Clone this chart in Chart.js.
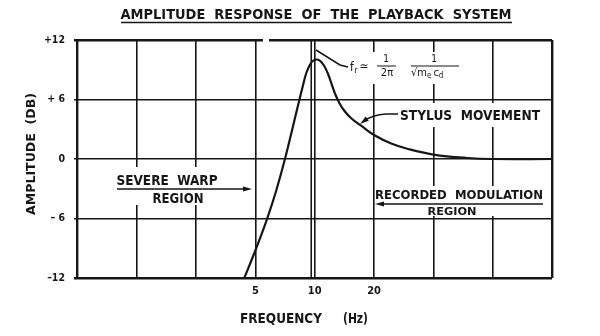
<!DOCTYPE html>
<html>
<head>
<meta charset="utf-8">
<script src="https://cdn.jsdelivr.net/npm/chart.js@4.4.1/dist/chart.umd.min.js"></script>
<style>
  html, body { margin: 0; padding: 0; background: #fff; }
  #wrap { width: 600px; height: 336px; }
</style>
</head>
<body>
<div id="wrap"><canvas id="chart" width="600" height="336"></canvas></div>
<script>
// stylus movement vs frequency, resonance just above 10 Hz
const freqHz = [4.39, 5.0, 5.73, 6.36, 7.06, 7.66, 8.33, 8.70, 9.06, 9.47, 9.77, 10.15, 10.60, 11.10, 11.63,
                12.18, 12.76, 13.37, 14.16, 15.36, 17.25, 20, 24.43, 29.76, 40, 59.7, 80, 160];
const ampDb  = [-12, -9.2, -6.03, -3.25, 0, 2.85, 5.85, 7.36, 8.67, 9.53, 9.88, 10.03, 9.93, 9.48, 8.67,
                7.56, 6.45, 5.60, 4.84, 4.08, 3.33, 2.42, 1.56, 1.01, 0.45, 0.1, 0, 0];

// octave grid, only three of them labelled
const gridFreqs = [0.625, 1.25, 2.5, 5, 10, 20, 40, 80, 160];
const labeledFreqs = [5, 10, 20];
const dbTicks = [-12, -6, 0, 6, 12];
const dbTickLabels = ['\u201312', '\u2013 6', '0', '+ 6', '+12'];

const FONT = '"DejaVu Sans Condensed", "Liberation Sans Narrow", "DejaVu Sans", sans-serif';
const INK = '#161616';

// squeeze or stretch a line of lettering to a given width
function fitText(ctx, text, x, y, width, size, align, weight) {
    ctx.save();
    ctx.font = `${weight || 'bold'} ${size}px ${FONT}`;
    const w = ctx.measureText(text).width;
    ctx.translate(x, y);
    ctx.scale(width / w, 1);
    ctx.textAlign = align || 'center';
    ctx.textBaseline = 'middle';
    ctx.fillText(text, 0, 0);
    ctx.restore();
}

function plainText(ctx, text, x, y, size, align) {
    ctx.font = `${size}px ${FONT}`;
    ctx.textAlign = align || 'left';
    ctx.textBaseline = 'middle';
    ctx.fillText(text, x, y);
    return x + ctx.measureText(text).width;
}

function arrowHead(ctx, x, y, angle) {
    const len = 9, half = 2.6;
    ctx.save();
    ctx.translate(x, y);
    ctx.rotate(angle);
    ctx.beginPath();
    ctx.moveTo(0, 0);
    ctx.lineTo(-len, -half);
    ctx.lineTo(-len, half);
    ctx.closePath();
    ctx.fill();
    ctx.restore();
}

const gridWidth = c => (c.index === 0 || c.index === c.scale.ticks.length - 1) ? 2.4 : 1.6;

const notes = {
    id: 'notes',
    beforeDatasetsDraw(chart) {
        // the 10 Hz rule is drawn double
        const { ctx, chartArea: a, scales: { x } } = chart;
        const px = x.getPixelForValue(10) - 3.5;
        ctx.save();
        ctx.strokeStyle = INK;
        ctx.lineWidth = 1.6;
        ctx.beginPath();
        ctx.moveTo(px, a.top);
        ctx.lineTo(px, a.bottom);
        ctx.stroke();
        ctx.restore();
    },
    afterDraw(chart) {
        const ctx = chart.ctx;
        ctx.save();

        // blank patches where lettering sits over the grid, plus the break in the top rule
        ctx.fillStyle = '#fff';
        [[395, 103, 150, 24], [345, 52, 120, 32], [112, 167, 138, 38], [376, 186, 174, 30], [263, 37, 6, 6]]
            .forEach(r => ctx.fillRect(r[0], r[1], r[2], r[3]));

        ctx.fillStyle = INK;
        ctx.strokeStyle = INK;
        ctx.lineWidth = 1.5;

        // title
        fitText(ctx, 'AMPLITUDE  RESPONSE  OF  THE  PLAYBACK  SYSTEM', 316, 15, 391, 13.5);
        ctx.beginPath();
        ctx.moveTo(121, 22.5);
        ctx.lineTo(512, 22.5);
        ctx.stroke();

        // axis titles
        fitText(ctx, 'FREQUENCY', 240, 319, 82, 14, 'left');
        fitText(ctx, '(Hz)', 343, 319, 25, 14, 'left');
        ctx.save();
        ctx.translate(32, 154);
        ctx.rotate(-Math.PI / 2);
        fitText(ctx, 'AMPLITUDE  (DB)', 0, 0, 122, 12.5);
        ctx.restore();

        // stylus movement label and leader
        fitText(ctx, 'STYLUS  MOVEMENT', 400, 116, 140, 13.5, 'left');
        ctx.beginPath();
        ctx.moveTo(398, 114);
        ctx.lineTo(386, 114);
        ctx.quadraticCurveTo(372, 115, 364, 121);
        ctx.stroke();
        arrowHead(ctx, 360, 124, Math.atan2(6, -8));

        // resonance formula and leader
        ctx.beginPath();
        ctx.moveTo(316, 50);
        ctx.lineTo(340, 65);
        ctx.lineTo(348, 67);
        ctx.stroke();
        let cx = plainText(ctx, 'f', 350, 68, 12);
        cx = plainText(ctx, 'r', cx + 0.5, 71, 9);
        plainText(ctx, '\u2243', cx + 2, 67, 12);
        plainText(ctx, '1', 386, 59, 10, 'center');
        ctx.lineWidth = 1.2;
        ctx.beginPath();
        ctx.moveTo(377, 66); ctx.lineTo(396, 66);
        ctx.moveTo(411, 66); ctx.lineTo(459, 66);
        ctx.stroke();
        plainText(ctx, '2\u03c0', 387, 73, 11, 'center');
        plainText(ctx, '1', 434, 59, 10, 'center');
        cx = plainText(ctx, '\u221a', 411, 73, 11);
        cx = plainText(ctx, 'm', cx, 73, 11);
        cx = plainText(ctx, 'e', cx, 76, 8);
        cx = plainText(ctx, 'c', cx + 2, 73, 11);
        plainText(ctx, 'd', cx, 76, 8);

        // severe warp region
        ctx.lineWidth = 1.5;
        fitText(ctx, 'SEVERE  WARP', 167, 181, 101, 13.5);
        fitText(ctx, 'REGION', 178, 199, 51, 13.5);
        ctx.beginPath();
        ctx.moveTo(117, 189);
        ctx.lineTo(246, 189);
        ctx.stroke();
        arrowHead(ctx, 252, 189, 0);

        // recorded modulation region
        fitText(ctx, 'RECORDED  MODULATION', 459, 196, 168, 12);
        fitText(ctx, 'REGION', 452, 212, 49, 11);
        ctx.beginPath();
        ctx.moveTo(381, 204);
        ctx.lineTo(543, 204);
        ctx.stroke();
        arrowHead(ctx, 375, 204, Math.PI);

        ctx.restore();
    }
};

const points = freqHz.map((f, i) => ({ x: f, y: ampDb[i] }));

new Chart(document.getElementById('chart'), {
    type: 'line',
    data: {
        datasets: [{
            label: 'Stylus movement',
            data: points,
            borderColor: INK,
            borderWidth: 2.2,
            pointRadius: 0,
            tension: 0.4,
            fill: false
        }]
    },
    options: {
        responsive: false,
        animation: false,
        layout: { padding: { left: 0, right: 48, top: 40, bottom: 0 } },
        plugins: { legend: { display: false }, tooltip: { enabled: false } },
        scales: {
            x: {
                type: 'logarithmic',
                min: gridFreqs[0],
                max: gridFreqs[gridFreqs.length - 1],
                afterBuildTicks: s => { s.ticks = gridFreqs.map(v => ({ value: v })); },
                afterFit: s => { s.height = 58; },
                ticks: {
                    autoSkip: false,
                    maxRotation: 0,
                    padding: 7,
                    color: INK,
                    font: { family: FONT, size: 11, weight: 'bold' },
                    callback: v => labeledFreqs.includes(v) ? String(v) : ''
                },
                grid: { color: INK, lineWidth: gridWidth, drawTicks: false },
                border: { display: false }
            },
            y: {
                min: -12,
                max: 12,
                afterBuildTicks: s => { s.ticks = dbTicks.map(v => ({ value: v })); },
                afterFit: s => { s.width = 74; },
                ticks: {
                    padding: 9,
                    color: INK,
                    font: { family: FONT, size: 10.5, weight: 'bold' },
                    callback: v => dbTickLabels[dbTicks.indexOf(v)]
                },
                grid: { color: INK, lineWidth: gridWidth, drawTicks: false },
                border: { display: false }
            }
        }
    },
    plugins: [notes]
});
</script>
</body>
</html>
